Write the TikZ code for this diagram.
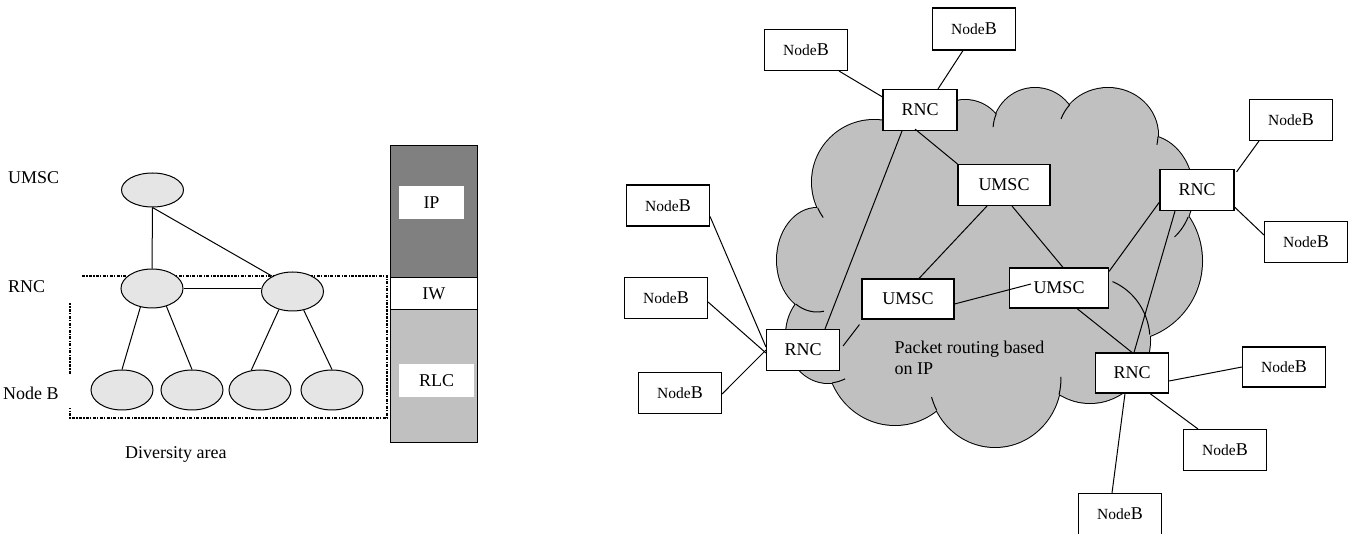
\documentclass[tikz,border=0pt]{standalone}
\usepackage{fontspec}
\setmainfont{Liberation Serif}
\usetikzlibrary{shapes.geometric}
\definecolor{cloudgray}{HTML}{C0C0C0}
\definecolor{ipgray}{HTML}{808080}
\definecolor{ovalgray}{HTML}{E5E5E5}
\newcommand\nbtxt{{\fontsize{15.5}{18}\selectfont Node}B}
\newcommand\cloudlobes{
 (874,182) ellipse [x radius=62, y radius=62]
 (817,260) ellipse [x radius=40, y radius=52]
 (828,335) ellipse [x radius=42, y radius=48]
 (895,355) ellipse [x radius=68, y radius=70]
 (995,378) ellipse [x radius=66, y radius=69]
 (1090,340) ellipse [x radius=60, y radius=63]
 (1122,261) circle [radius=80]
 (1145,192) ellipse [x radius=48, y radius=57]
 (1108,135) ellipse [x radius=50, y radius=47]
 (1035,130) circle [radius=42]
 (965,140) circle [radius=40]
}
\tikzset{
 box/.style={draw, fill=white, inner sep=0pt, line width=1.1pt, minimum height=41pt},
 nb/.style={box, minimum width=83pt},
 rnc/.style={box, minimum width=74pt},
 ums/.style={box, minimum width=92pt},
 oval/.style={ellipse, draw, fill=ovalgray, inner sep=0pt, minimum width=62pt, line width=1pt},
 link/.style={line width=1pt},
 lbl/.style={anchor=base west, inner sep=0pt},
 dotbox/.style={line width=1.4pt, dash pattern=on 3pt off 1.3pt on 1.3pt off 1.3pt},
 tail/.style={line width=1pt},
 stack/.style={draw, inner sep=0pt, line width=1.1pt, minimum width=86.5pt},
 tag/.style={fill=white, inner sep=0pt, minimum height=33pt}
}
\begin{document}
\begin{tikzpicture}[x=1pt, y=-1pt, font=\fontsize{18}{21}\selectfont]
\useasboundingbox (0,0) rectangle (1355,534);

% ---------------- cloud ----------------
\draw[line width=2pt, fill=cloudgray] \cloudlobes;
\fill[cloudgray] \cloudlobes;
\fill[cloudgray] (874,182) -- (817,260) -- (828,335) -- (895,355) -- (995,378) -- (1090,340)
  -- (1122,261) -- (1145,192) -- (1108,135) -- (1035,130) -- (965,140) -- cycle;
\fill[cloudgray] (920,150) ellipse [x radius=40, y radius=25];
\draw[tail] (874,182) ++(155:62 and 62) arc[start angle=155, end angle=145, x radius=62, y radius=62];
\draw[tail] (817,260) ++(122:40 and 52) arc[start angle=122, end angle=80, x radius=40, y radius=52];
\draw[tail] (828,335) ++(84:42 and 48) arc[start angle=84, end angle=66, x radius=42, y radius=48];
\draw[tail] (995,378) ++(152:66 and 69) arc[start angle=152, end angle=164, x radius=66, y radius=69];
\draw[tail] (995,378) ++(14:66 and 69) arc[start angle=14, end angle=-1, x radius=66, y radius=69];
\draw[tail] (1090,340) ++(-5:60 and 63) arc[start angle=-5, end angle=-68, x radius=60, y radius=63];
\draw[tail] (1145,192) ++(26:48 and 57) arc[start angle=26, end angle=52, x radius=48, y radius=57];
\draw[tail] (1108,135) ++(220:50 and 47) arc[start angle=220, end angle=200, x radius=50, y radius=47];
\draw[tail] (1108,135) ++(2:50 and 47) arc[start angle=2, end angle=12, x radius=50, y radius=47];
\draw[tail] (1035,130) ++(203:42 and 42) arc[start angle=203, end angle=184, x radius=42, y radius=42];

% ---------------- left tree ----------------
\node[lbl] (lumsc) at (8,183.3) {UMSC};
\node[lbl] (lrnc) at (8,292.7) {RNC};
\node[lbl] (lnodeb) at (3,400) {Node B};
\node[lbl] (ldiv) at (125,458.3) {Diversity area};

\draw[dotbox] (82,276) -- (387,276) -- (387,418) -- (70,418) -- (70,408);
\draw[dotbox] (70,374) -- (70,303);

\node[oval, minimum height=34pt] (U) at (152.5,190) {};
\node[oval, minimum height=39pt] (RL) at (152,288.5) {};
\node[oval, minimum height=39pt] (RR) at (292.5,291.5) {};
\node[oval, minimum height=40pt] (B1) at (122,390) {};
\node[oval, minimum height=40pt] (B2) at (192,390) {};
\node[oval, minimum height=40pt] (B3) at (260,390) {};
\node[oval, minimum height=40pt] (B4) at (332,390) {};

\draw[link] (U.south) -- (RL.north);
\draw[link] (U.south) -- (RR.143);
\draw[link] (RL.east) -- (RL.east -| RR.west);
\draw[link] (RL.238) -- (B1.north);
\draw[link] (RL.309) -- (B2.north);
\draw[link] (RR.233) -- (B3.114);
\draw[link] (RR.301) -- (B4.north);

% ---------------- protocol stack ----------------
\node[stack, fill=ipgray, minimum height=132pt] (sip) at (433.9,211.7) {};
\node[stack, fill=white, minimum height=31.6pt] (siw) at (433.9,293.5) {IW};
\node[stack, fill=cloudgray, minimum height=133.4pt] (srlc) at (433.9,376) {};
\node[tag, minimum width=65pt] (tip) at (431.5,202.5) {IP};
\node[tag, minimum width=75pt] (trlc) at (436.5,380.5) {RLC\hspace{11pt}};

% ---------------- right network ----------------
\node[nb] (nbTL) at (806,50) {\nbtxt};
\node[nb, minimum height=42pt] (nbTR) at (974,29) {\nbtxt};
\node[rnc] (rncT) at (920,110) {RNC};
\node[ums] (umT) at (1004,185) {UMSC};
\node[ums, minimum height=40pt] (umL) at (908,299) {UMSC};
\node[box, minimum width=99pt, minimum height=40pt] (umR) at (1059,288) {UMSC\hspace{17pt}};
\node[rnc, minimum width=73pt] (rncBL) at (803,350) {RNC};
\node[rnc, minimum width=73pt, minimum height=40pt] (rncBR) at (1132,373) {RNC};
\node[rnc] (rncR) at (1197,190) {RNC};
\node[nb] (nbR1) at (1291,120) {\nbtxt};
\node[nb] (nbR2) at (1306,242) {\nbtxt};
\node[nb, minimum height=40pt] (nbBR1) at (1284,367) {\nbtxt};
\node[nb] (nbBR2) at (1225,450) {\nbtxt};
\node[nb] (nbB) at (1120,514) {\nbtxt};
\node[nb] (nbL1) at (668,205.5) {\nbtxt};
\node[nb] (nbL2) at (666,298) {\nbtxt};
\node[nb] (nbL3) at (680,393) {\nbtxt};

\node[lbl] (pkt1) at (894.3,353.3) {Packet routing based};
\node[lbl] (pkt2) at (894.3,374.3) {on IP};

\draw[link] ([xshift=-9pt]nbTL.south east) -- ([yshift=-8pt]rncT.north west);
\draw[link] ([xshift=-11pt]nbTR.south) -- ([xshift=18pt]rncT.north);
\draw[link] ([xshift=-5pt,yshift=2pt]rncT.south) -- (umT.north west);
\draw[link] ([xshift=-18pt]rncT.south) -- ([xshift=22pt]rncBL.north);
\draw[link] ([xshift=-17pt]umT.south) -- ([xshift=11pt]umL.north);
\draw[link] ([xshift=8pt]umT.south) -- ([xshift=4pt]umR.north);
\draw[link] ([yshift=-5pt]umL.east) -- ([xshift=22pt,yshift=4pt]umR.west);
\draw[link] ([xshift=-2pt,yshift=-5pt]umL.south west) -- ([xshift=3pt,yshift=4pt]rncBL.east);
\draw[link] ([yshift=-4pt]umR.north east) -- ([yshift=9pt]rncR.south west);
\draw[link] ([xshift=18pt]umR.south) -- (rncBR.north);
\draw[link] ([xshift=-22pt]rncR.south) -- ([xshift=2pt]rncBR.north);
\draw[link] ([xshift=2pt,yshift=-3pt]rncR.north east) -- ([xshift=10pt]nbR1.south west);
\draw[link] ([yshift=4pt]rncR.south east) -- ([yshift=7pt]nbR2.west);
\draw[link] ([yshift=-8pt]rncBR.east) -- (nbBR1.west);
\draw[link] ([xshift=18pt]rncBR.south) -- ([xshift=15pt]nbBR2.north west);
\draw[link] ([xshift=-7pt]rncBR.south) -- ([xshift=-8pt]nbB.north);
\draw[link] ([yshift=-11pt]nbL1.east) -- ([yshift=3pt]rncBL.west);
\draw[link] ([yshift=-4pt]nbL2.east) -- ([yshift=-3pt]rncBL.west);
\draw[link] ([yshift=-1pt]nbL3.east) -- (rncBL.west);
\end{tikzpicture}
\end{document}
